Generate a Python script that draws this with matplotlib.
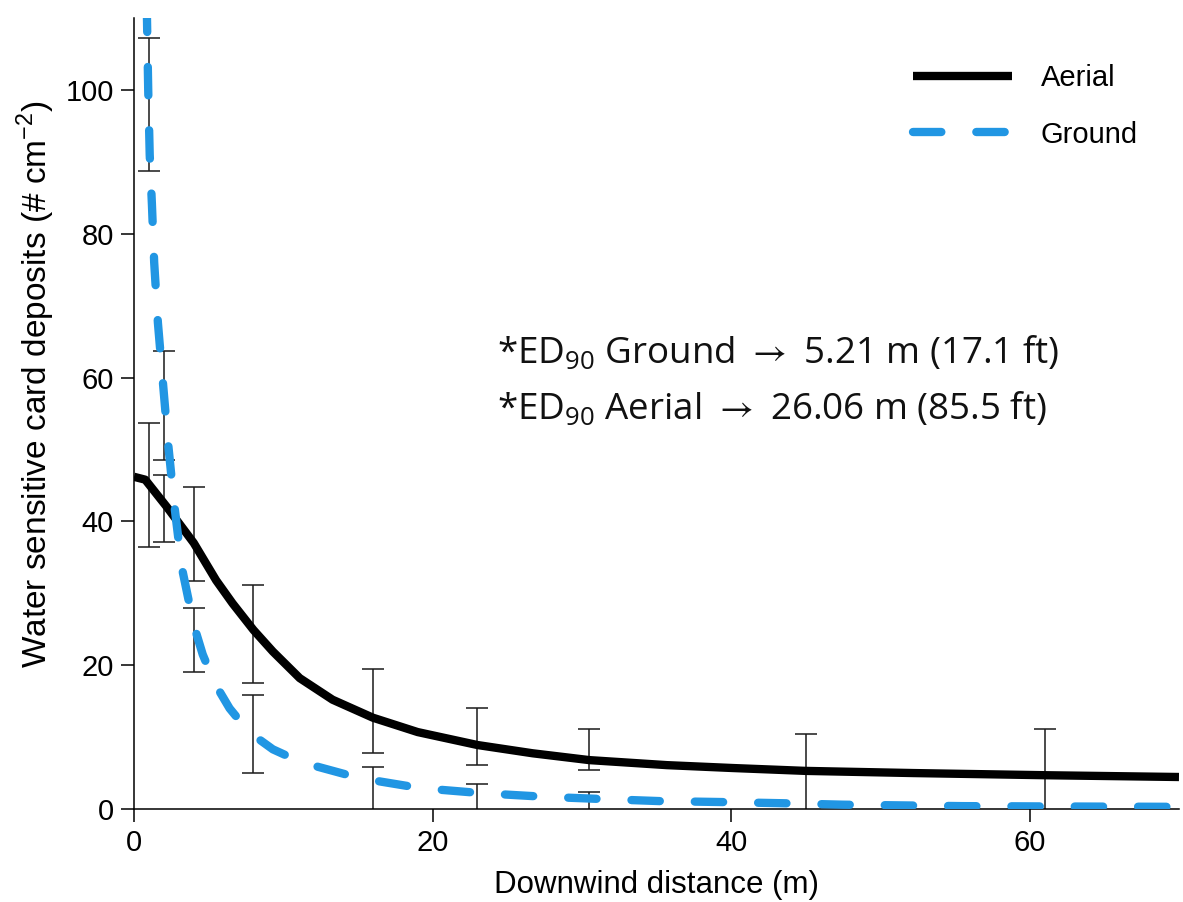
import numpy as np
import matplotlib
matplotlib.use('Agg')
import matplotlib.pyplot as plt

# ── Style ─────────────────────────────────────────────────
BLUE = '#2196E3'
INK = '#000000'
plt.rcParams.update({
    'font.family': ['Liberation Sans', 'DejaVu Sans'],
    'font.size': 21,
    'mathtext.fontset': 'custom',
    'mathtext.rm': 'Open Sans',
    'mathtext.sf': 'Liberation Sans',
    'mathtext.fallback': 'stixsans',
    'axes.spines.top': False,
    'axes.spines.right': False,
})

# ── Data ──────────────────────────────────────────────────
aerial_x = [0, 0.75, 2.2, 4.0, 5.5, 6.6, 8.0, 9.3, 11.1, 13.3, 16.0, 19.0,
            23.0, 26.7, 30.5, 35.7, 40.1, 45.0, 52.2, 61.0, 70.0]
aerial_y = [46.2, 45.8, 42.0, 37.0, 31.8, 28.6, 24.9, 21.9, 18.2, 15.2, 12.7, 10.7,
            8.9, 7.75, 6.8, 6.1, 5.7, 5.3, 5.0, 4.7, 4.45]

ground_x = [0.85, 0.95, 1.05, 1.2, 1.35, 1.6, 1.94, 2.28, 2.68, 3.2, 4.0, 4.6,
            5.4, 6.4, 7.7, 9.3, 11.2, 15.1, 19.2, 23.3, 27.5, 31.2, 35.2,
            39.3, 43.5, 47.5, 55.5, 62.0, 70.0]
ground_y = [112, 100, 91, 84, 76, 67.6, 59.2, 50.9, 42.6, 33.6, 25.6, 21.5,
            17.5, 14.0, 10.7, 8.3, 6.5, 4.3, 2.9, 2.2, 1.7, 1.4, 1.1,
            0.97, 0.8, 0.6, 0.4, 0.35, 0.3]

# error bars: sampling distances with lower / upper limits
bar_x = [1, 2, 4, 8, 16, 23, 30.5, 45, 61]
aerial_lo = [36.4, 37.1, 31.7, 17.5, 7.8, 6.1, 5.4, -2, -2]
aerial_hi = [53.7, 46.5, 44.8, 31.2, 19.5, 14.0, 11.1, 10.4, 11.1]
ground_lo = [88.7, 48.5, 19.1, 5.0, -2, -2, -2, np.nan, np.nan]
ground_hi = [107.2, 63.7, 28.0, 15.9, 5.8, 3.5, 2.4, np.nan, np.nan]

# ── Figure ────────────────────────────────────────────────
fig = plt.figure(figsize=(11.83, 9.02), dpi=100)
ax = fig.add_axes([0.1133, 0.1031, 0.8833, 0.8769])

for lo, hi in [(aerial_lo, aerial_hi), (ground_lo, ground_hi)]:
    lo = np.array(lo, dtype=float)
    hi = np.array(hi, dtype=float)
    mid = (lo + hi) / 2
    ax.errorbar(bar_x, mid, yerr=(hi - lo) / 2, fmt='none', ecolor='#1a1a1a',
                elinewidth=1.1, capsize=8, capthick=1.1, zorder=2)

ax.plot(aerial_x, aerial_y, color=INK, linewidth=6, solid_capstyle='butt',
        solid_joinstyle='round', label='Aerial', zorder=3)
ax.plot(ground_x, ground_y, color=BLUE, linewidth=6, dashes=(3.4, 4.2),
        dash_capstyle='round', label='Ground', zorder=4)

ax.set_xlim(0, 70)
ax.set_ylim(0, 110)
ax.set_xticks([0, 20, 40, 60])
ax.set_yticks([0, 20, 40, 60, 80, 100])
ax.tick_params(direction='out', length=9.4, width=1.1, labelsize=21, pad=5)
for s in ['left', 'bottom']:
    ax.spines[s].set_linewidth(1.1)

ax.set_xlabel('Downwind distance (m)', fontsize=22.5, labelpad=9)
ax.set_ylabel(r'Water sensitive card deposits (# cm$^{\mathsf{-2}}$)', fontsize=24)
ax.yaxis.set_label_coords(-0.074, 0.537)

ax.legend(loc='upper left', bbox_to_anchor=(0.72, 0.975), frameon=False,
          handlelength=3.4, handletextpad=1.0, labelspacing=0.98, fontsize=21)

ann = dict(fontsize=26.5, family=['Open Sans', 'DejaVu Sans'], color='#111111',
           transform=ax.transAxes, ha='left', va='baseline')
ax.text(0.347, 0.5626, r'*ED$_{\mathrm{90}}$ Ground $\rightarrow$ 5.21 m (17.1 ft)', **ann)
ax.text(0.347, 0.4918, r'*ED$_{\mathrm{90}}$ Aerial $\rightarrow$ 26.06 m (85.5 ft)', **ann)

fig.savefig('out.png', dpi=100, facecolor='white')
